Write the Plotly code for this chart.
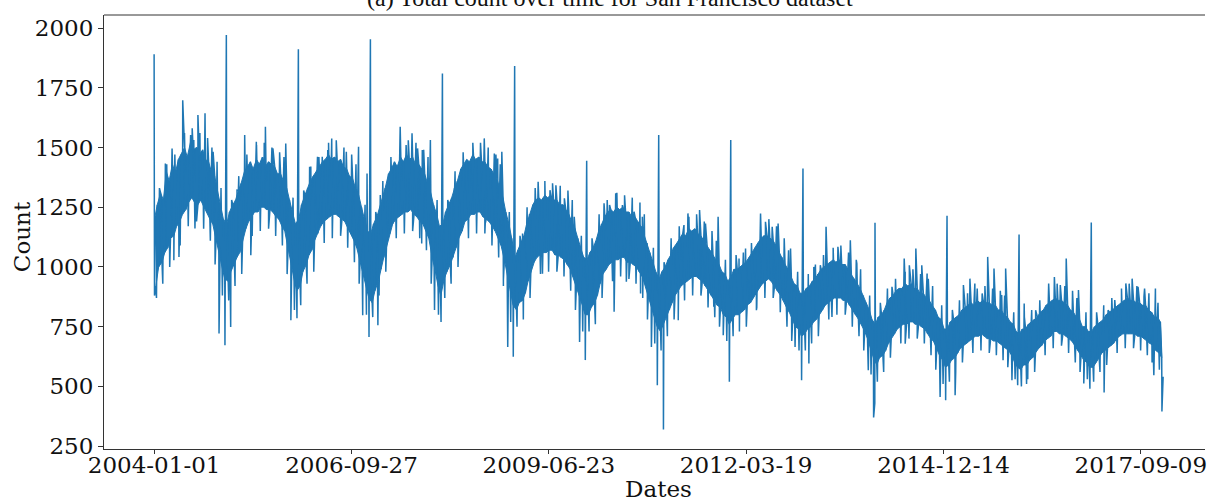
import pandas as pd
import plotly.graph_objects as go

# ---- band readings: 4 values per month (hi, lo, hi, lo) ----
counts_2004 = [1200, 920, 1260, 1000, 1310, 1020, 1280, 1060, 1400, 1080, 1360, 1120, 1430, 1130, 1390, 1170,
               1450, 1190, 1470, 1220, 1500, 1240, 1460, 1270, 1520, 1290, 1490, 1270, 1500, 1260, 1470, 1280,
               1490, 1250, 1450, 1230, 1440, 1200, 1400, 1180, 1380, 1120, 1320, 1060, 1260, 1000, 1200, 950]
counts_2005 = [1180, 940, 1230, 980, 1260, 1010, 1280, 1040, 1320, 1060, 1350, 1100, 1400, 1160, 1420, 1190,
               1440, 1210, 1410, 1230, 1450, 1230, 1430, 1250, 1460, 1250, 1420, 1240, 1440, 1240, 1430, 1230,
               1420, 1210, 1390, 1200, 1390, 1170, 1360, 1150, 1330, 1080, 1280, 1020, 1230, 950, 1180, 900]
counts_2006 = [1200, 920, 1260, 980, 1300, 1010, 1330, 1050, 1360, 1070, 1380, 1110, 1400, 1140, 1420, 1170,
               1440, 1190, 1450, 1200, 1470, 1210, 1450, 1220, 1460, 1220, 1440, 1210, 1450, 1200, 1420, 1190,
               1410, 1160, 1380, 1140, 1370, 1110, 1330, 1080, 1300, 1030, 1250, 980, 1200, 920, 1150, 870]
counts_2007 = [1140, 850, 1180, 900, 1210, 940, 1250, 990, 1300, 1040, 1330, 1090, 1390, 1140, 1410, 1180,
               1440, 1200, 1420, 1210, 1460, 1220, 1440, 1230, 1470, 1230, 1450, 1240, 1460, 1220, 1430, 1210,
               1430, 1190, 1410, 1180, 1390, 1150, 1350, 1120, 1310, 1040, 1260, 990, 1220, 920, 1170, 880]
counts_2008 = [1180, 950, 1230, 980, 1260, 1010, 1290, 1040, 1330, 1080, 1360, 1120, 1410, 1150, 1430, 1190,
               1450, 1200, 1440, 1220, 1470, 1220, 1450, 1230, 1460, 1230, 1440, 1210, 1440, 1200, 1420, 1190,
               1410, 1170, 1390, 1150, 1370, 1120, 1330, 1090, 1290, 1030, 1230, 980, 1180, 900, 1120, 840]
counts_2009 = [1040, 820, 1070, 850, 1100, 860, 1130, 890, 1180, 940, 1220, 980, 1260, 1020, 1280, 1040,
               1290, 1050, 1280, 1060, 1300, 1060, 1290, 1070, 1300, 1070, 1280, 1050, 1280, 1050, 1260, 1040,
               1260, 1030, 1240, 1010, 1220, 990, 1190, 960, 1160, 920, 1120, 880, 1080, 840, 1040, 800]
counts_2010 = [1030, 800, 1060, 830, 1080, 850, 1110, 880, 1150, 930, 1180, 970, 1210, 990, 1230, 1010,
               1240, 1020, 1230, 1030, 1250, 1030, 1240, 1040, 1250, 1040, 1230, 1020, 1230, 1020, 1210, 1010,
               1210, 1000, 1190, 980, 1170, 960, 1140, 930, 1100, 880, 1060, 840, 1020, 790, 980, 750]
counts_2011 = [950, 730, 980, 760, 1000, 790, 1030, 820, 1050, 850, 1080, 880, 1100, 900, 1120, 920,
               1140, 930, 1130, 940, 1160, 950, 1150, 960, 1160, 960, 1140, 950, 1130, 940, 1110, 920,
               1090, 900, 1070, 880, 1050, 860, 1030, 840, 1010, 830, 980, 800, 970, 790, 940, 760]
counts_2012 = [960, 780, 990, 800, 990, 800, 1000, 810, 1010, 820, 1020, 840, 1040, 850, 1060, 870,
               1080, 890, 1100, 910, 1120, 930, 1130, 940, 1130, 950, 1120, 940, 1110, 920, 1090, 900,
               1060, 880, 1040, 860, 1010, 830, 990, 810, 960, 780, 930, 750, 920, 740, 890, 710]
counts_2013 = [890, 720, 910, 740, 920, 750, 940, 770, 950, 780, 970, 800, 990, 820, 1000, 840,
               1010, 850, 1020, 860, 1030, 870, 1020, 870, 1030, 870, 1010, 860, 1010, 860, 990, 840,
               970, 820, 950, 800, 930, 780, 910, 760, 880, 730, 850, 700, 820, 660, 780, 620]
counts_2014 = [760, 590, 790, 620, 800, 630, 820, 650, 850, 680, 870, 700, 880, 720, 900, 740,
               910, 750, 910, 760, 930, 760, 920, 770, 930, 770, 910, 760, 910, 760, 890, 750,
               890, 740, 870, 720, 860, 700, 840, 690, 820, 660, 790, 630, 780, 610, 740, 580]
counts_2015 = [740, 590, 770, 610, 780, 620, 790, 640, 800, 660, 820, 670, 830, 680, 840, 690,
               850, 700, 840, 710, 860, 710, 850, 720, 860, 710, 850, 700, 850, 700, 840, 690,
               840, 690, 820, 680, 820, 670, 800, 660, 790, 650, 770, 630, 760, 600, 730, 580]
counts_2016 = [720, 570, 740, 590, 740, 590, 760, 610, 770, 620, 780, 640, 790, 660, 810, 670,
               820, 690, 840, 700, 850, 710, 860, 730, 870, 730, 860, 720, 860, 720, 850, 710,
               840, 700, 820, 690, 810, 670, 790, 650, 780, 630, 750, 610, 750, 600, 730, 580]
counts_2017 = [730, 580, 750, 600, 760, 620, 770, 640, 780, 650, 800, 660, 810, 670, 820, 680,
               830, 700, 840, 710, 850, 720, 860, 720, 870, 720, 860, 720, 860, 720, 850, 710,
               850, 710, 840, 700, 840, 690, 820, 680, 810, 670, 790, 650, 790, 640, 770, 620]
years = list(range(2004, 2018))
band_days = [3, 10, 17, 24]

# ---- smaller day-to-day excursions just outside the dense band (one row per year) ----
minor_days = ["01-13", "01-28", "02-14", "03-05", "03-20", "04-15", "05-12", "06-03", "06-22", "07-12",
              "08-03", "08-20", "09-08", "09-28", "10-12", "10-20", "11-05", "12-05", "12-12"]
minor_values = [
    870, 1330, 930, 1430, 1000, 1470, 1090, 1560, 1170, 1580, 1190, 1560, 1160, 1540, 1110, 1500, 1010, 1330, 880,
    860, 1280, 920, 1380, 970, 1470, 1130, 1510, 1150, 1520, 1160, 1500, 1130, 1480, 1090, 1460, 970, 1290, 820,
    840, 1320, 930, 1420, 980, 1460, 1100, 1520, 1120, 1530, 1130, 1500, 1080, 1470, 1020, 1430, 930, 1260, 800,
    790, 1230, 880, 1360, 980, 1460, 1120, 1520, 1140, 1530, 1150, 1520, 1120, 1490, 1070, 1460, 930, 1280, 800,
    870, 1280, 930, 1400, 1000, 1480, 1120, 1520, 1140, 1520, 1140, 1500, 1090, 1470, 1040, 1430, 920, 1230, 770,
    750, 1130, 780, 1250, 870, 1330, 970, 1360, 980, 1350, 980, 1340, 960, 1320, 900, 1280, 820, 1130, 730,
    730, 1120, 760, 1220, 870, 1280, 940, 1310, 960, 1300, 950, 1290, 930, 1270, 870, 1220, 780, 1080, 680,
    650, 1020, 710, 1120, 780, 1170, 860, 1210, 880, 1220, 880, 1190, 830, 1150, 790, 1110, 750, 1030, 690,
    710, 1050, 730, 1060, 750, 1100, 830, 1180, 870, 1200, 870, 1170, 810, 1120, 750, 1070, 690, 980, 650,
    650, 970, 680, 1010, 710, 1050, 780, 1080, 800, 1090, 800, 1060, 750, 1030, 710, 990, 650, 880, 550,
    520, 850, 560, 910, 620, 950, 680, 980, 700, 990, 700, 970, 680, 950, 630, 920, 570, 840, 510,
    520, 820, 560, 860, 600, 890, 640, 910, 650, 920, 640, 910, 630, 900, 610, 880, 580, 810, 530,
    500, 790, 530, 820, 560, 860, 630, 910, 660, 930, 670, 920, 640, 900, 600, 870, 560, 810, 530,
    520, 810, 560, 840, 590, 870, 640, 910, 660, 930, 660, 920, 650, 910, 630, 890, 600, 850, 570,
]

# ---- single-day large excursions (spikes up and down) ----
spike_dates = [
    "2004-01-01", "2004-01-03", "2004-02-27", "2004-04-01", "2004-04-10", "2004-05-06", "2004-05-25",
    "2004-07-04", "2004-07-20", "2004-07-26", "2004-08-10", "2004-09-15", "2004-10-26", "2004-11-15",
    "2004-11-25", "2004-12-25",
    "2005-01-01", "2005-01-23", "2005-02-24", "2005-04-04", "2005-05-05", "2005-06-02", "2005-07-18",
    "2005-08-25", "2005-10-29", "2005-11-24", "2005-12-25",
    "2006-01-01", "2006-02-27", "2006-04-08", "2006-05-02", "2006-05-30", "2006-06-19", "2006-07-15",
    "2006-09-01", "2006-11-02", "2006-11-23", "2006-12-15", "2006-12-25",
    "2007-01-01", "2007-02-08", "2007-02-20", "2007-04-16", "2007-06-01", "2007-07-01", "2007-07-31",
    "2007-08-28", "2007-09-18", "2007-09-21", "2007-11-01", "2007-11-22", "2007-12-25",
    "2008-01-01", "2008-03-01", "2008-04-16", "2008-06-08", "2008-07-10", "2008-07-31", "2008-08-05",
    "2008-09-20", "2008-10-07", "2008-10-28", "2008-11-05", "2008-11-27", "2008-12-25",
    "2009-01-01", "2009-02-10", "2009-04-30", "2009-05-22", "2009-06-29", "2009-07-29", "2009-09-10",
    "2009-10-30", "2009-11-26", "2009-12-25",
    "2010-01-01", "2010-03-30", "2010-04-27", "2010-05-20", "2010-05-28", "2010-07-01", "2010-07-21",
    "2010-08-29", "2010-10-01", "2010-10-10", "2010-11-25", "2010-12-25",
    "2011-01-01", "2011-01-25", "2011-04-10", "2011-05-09", "2011-05-29", "2011-07-27", "2011-08-26",
    "2011-10-07", "2011-10-29", "2011-11-24", "2011-12-25",
    "2012-01-01", "2012-02-12", "2012-03-16", "2012-05-10", "2012-05-31", "2012-06-25", "2012-07-29",
    "2012-08-28", "2012-10-30", "2012-11-22", "2012-12-25",
    "2013-01-01", "2013-01-31", "2013-02-25", "2013-03-30", "2013-04-28", "2013-05-28", "2013-06-27",
    "2013-08-29", "2013-10-01", "2013-11-28", "2013-12-25", "2013-12-31",
    "2014-01-01", "2014-03-28", "2014-05-29", "2014-06-03", "2014-06-24", "2014-07-27", "2014-08-26",
    "2014-09-22", "2014-11-08", "2014-11-27", "2014-12-25",
    "2015-01-01", "2015-02-11", "2015-03-25", "2015-04-27", "2015-05-22", "2015-06-28", "2015-07-26",
    "2015-08-27", "2015-10-05", "2015-10-25", "2015-11-26", "2015-12-25",
    "2016-01-01", "2016-01-27", "2016-02-08", "2016-03-25", "2016-05-30", "2016-06-28", "2016-07-28",
    "2016-08-27", "2016-10-10", "2016-10-28", "2016-11-24", "2016-12-25",
    "2017-01-01", "2017-03-07", "2017-03-27", "2017-04-30", "2017-06-25", "2017-07-27", "2017-08-26",
    "2017-09-25", "2017-11-14", "2017-11-22", "2017-12-25", "2017-12-31",
]
spike_values = [
    1890, 880, 1433, 1496, 1028, 1042, 1698,
    1552, 1531, 1161, 1636, 1643, 1482, 1440,
    721, 672,
    1971, 749, 1321, 1552, 1049, 1524, 1587,
    1496, 1517, 777, 785,
    1911, 1419, 1461, 1461, 1489, 1538, 1482,
    1482, 1503, 798, 1391, 707,
    1953, 756, 1301, 1405, 1587, 1510, 1559,
    1496, 1098, 1489, 1531, 820, 770,
    1810, 1328, 1454, 1440, 1405, 1538, 1182,
    1475, 1454, 1482, 945, 665, 624,
    1841, 1140, 1356, 972, 1321, 1342, 1287,
    1210, 686, 610,
    1444, 1266, 1259, 812, 1308, 1259, 938,
    1231, 889, 1210, 665, 505,
    1552, 320, 777, 1175, 1224, 1238, 1182,
    833, 1210, 714, 519,
    1531, 1035, 1077, 819, 1224, 1189, 1168,
    1182, 1077, 665, 526,
    1412, 596, 1000, 1007, 1168, 791, 1084,
    1112, 1014, 568, 370, 430,
    1185, 917, 1035, 679, 1007, 1077, 1007,
    972, 610, 456, 442,
    1214, 463, 924, 951, 931, 889, 1042,
    993, 882, 993, 526, 505,
    1136, 847, 510, 819, 931, 958, 924,
    1035, 679, 903, 512, 490,
    1186, 474, 819, 861, 931, 951, 917,
    875, 547, 910, 395, 540,
]

tick_labels = ["2004-01-01", "2006-09-27", "2009-06-23", "2012-03-19", "2014-12-14", "2017-09-09"]
y_ticks = [250, 500, 750, 1000, 1250, 1500, 1750, 2000]

# ---- assemble the series ----
yearly = [counts_2004, counts_2005, counts_2006, counts_2007, counts_2008, counts_2009, counts_2010,
          counts_2011, counts_2012, counts_2013, counts_2014, counts_2015, counts_2016, counts_2017]
band_dates, band_vals = [], []
for yr, vals in zip(years, yearly):
    i = 0
    for m in range(1, 13):
        for d in band_days:
            band_dates.append(pd.Timestamp(yr, m, d))
            band_vals.append(vals[i])
            i += 1
hi_dates, hi_vals = band_dates[0::2], band_vals[0::2]
lo_dates, lo_vals = band_dates[1::2], band_vals[1::2]

minor_dates = [pd.Timestamp(f"{yr}-{md}") for yr in years for md in minor_days]

df = pd.DataFrame({"date": band_dates + minor_dates + [pd.Timestamp(s) for s in spike_dates],
                   "count": band_vals + minor_values + spike_values})
df = df.sort_values("date", kind="stable")

BLUE = "#1f77b4"
fig = go.Figure()
# dense core of the daily counts (between the read upper and lower readings)
fig.add_trace(go.Scatter(x=hi_dates + lo_dates[::-1], y=hi_vals + lo_vals[::-1],
                         fill="toself", fillcolor=BLUE, mode="lines",
                         line=dict(color=BLUE, width=1), hoverinfo="skip"))
# the daily line with its excursions
fig.add_trace(go.Scatter(x=df["date"], y=df["count"], mode="lines",
                         line=dict(color=BLUE, width=1.5), hoverinfo="skip"))

W, H = 1207, 499
L, R, T, B = 104, 0, 15, 50
origin = pd.Timestamp("2004-01-01")
px_per_day = 0.1977
x_left = origin - pd.Timedelta(days=(154.2 - L) / px_per_day)
x_right = origin + pd.Timedelta(days=(W - R - 154.2) / px_per_day)

tick_font = dict(family="DejaVu Serif", size=23, color="#111")
fig.update_layout(
    width=W, height=H, margin=dict(l=L, r=R, t=T, b=B),
    paper_bgcolor="white", plot_bgcolor="white", showlegend=False,
    xaxis=dict(type="date", range=[x_left, x_right], tickmode="array",
               tickvals=[pd.Timestamp(t) for t in tick_labels], ticktext=tick_labels,
               showgrid=False, zeroline=False, showline=True, linecolor="#333", linewidth=1,
               ticks="outside", ticklen=4, tickcolor="#333", tickfont=tick_font,
               ticklabeloverflow="allow", ticklabelstandoff=-9),
    yaxis=dict(range=[238, 2054.4], tickmode="array", tickvals=y_ticks,
               ticktext=[str(v) for v in y_ticks],
               showgrid=False, zeroline=False, showline=True, linecolor="#333", linewidth=1,
               ticks="outside", ticklen=5, tickcolor="#333", tickfont=tick_font),
    shapes=[dict(type="line", xref="paper", yref="paper", x0=0, x1=1, y0=1, y1=1,
                 line=dict(color="#333", width=1))],
    annotations=[
        dict(text="Count", xref="paper", yref="paper", x=(22 - L) / (W - L - R), y=(449 - 237) / 434,
             textangle=-90, showarrow=False, xanchor="center", yanchor="middle",
             font=dict(family="DejaVu Serif", size=23, color="#111")),
        dict(text="Dates", xref="paper", yref="paper", x=(660 - L) / (W - L - R), y=(449 - 489) / 434,
             showarrow=False, xanchor="center", yanchor="middle",
             font=dict(family="DejaVu Serif", size=23, color="#111")),
        dict(text="(a) Total count over time for San Francisco dataset", xref="paper", yref="paper",
             x=(611 - L) / (W - L - R), y=(449 + 2) / 434, showarrow=False,
             xanchor="center", yanchor="middle",
             font=dict(family="Liberation Serif", size=24, color="#111")),
    ],
)
fig.write_html("out.html")
